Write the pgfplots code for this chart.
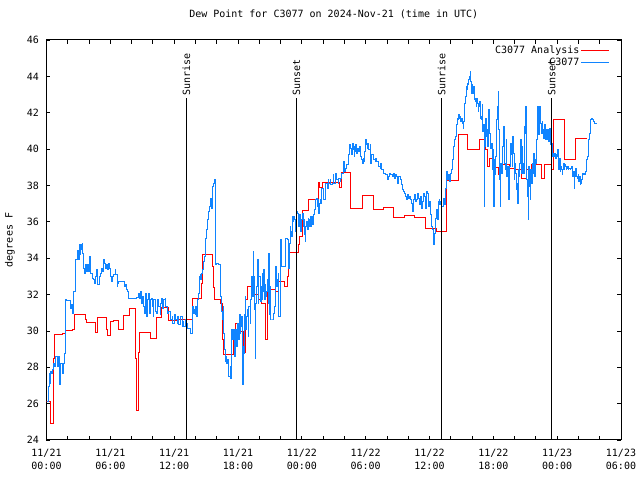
\documentclass[border=0pt]{standalone}
\usepackage{pgfplots}
\pgfplotsset{compat=1.18}
\usepackage{fontspec}
\setmainfont{DejaVu Sans Mono}
\definecolor{obsblue}{RGB}{16,132,255}
\begin{document}
\begin{tikzpicture}[font=\fontsize{10bp}{13bp}\selectfont]
\useasboundingbox (-46.5bp,-40bp) rectangle (593.5bp,440bp);
\begin{axis}[
  scale only axis, width=574.5bp, height=400bp,
  at={(0,0)}, anchor=south west,
  xmin=0, xmax=54, ymin=24, ymax=46,
  xtick={0,6,...,54},
  xticklabels={{11/21\\00:00},{11/21\\06:00},{11/21\\12:00},{11/21\\18:00},{11/22\\00:00},{11/22\\06:00},{11/22\\12:00},{11/22\\18:00},{11/23\\00:00},{11/23\\06:00}},
  minor xtick={2,4,8,10,14,16,20,22,26,28,32,34,38,40,44,46,50,52},
  ytick={24,26,...,46},
  tick align=inside, major tick length=4bp, minor tick length=4bp,
  every tick/.style={black, line width=0.8bp},
  axis line style={line width=1bp},
  /pgf/number format/assume math mode=true,
  xticklabel style={align=center, yshift=-6bp},
  yticklabel style={xshift=-4bp},
  title={Dew Point for C3077 on 2024-Nov-21 (time in UTC)},
  title style={at={(axis description cs:0.5,1)}, anchor=center, yshift=20bp},
  ylabel={degrees F},
  every axis y label/.style={at={(axis description cs:-0.0635,0.5)}, rotate=90, anchor=center},
  legend style={at={(rel axis cs:0.981,0.99)}, anchor=north east, draw=none, fill=none, inner sep=0pt, row sep=0bp, nodes={inner sep=1.5bp}},
  legend cell align=right,
  legend plot pos=right,
  legend image code/.code={\draw[#1, line width=1bp] (0bp,0bp) -- (28bp,0bp);},
]
\addplot[const plot, red, line width=1bp] coordinates {
(0.00,26.10)(0.33,24.88)(0.64,28.49)(0.74,29.78)(1.52,29.85)(1.80,30.00)(2.46,30.09)(2.62,30.91)(3.68,30.60)(3.78,30.47)(4.65,29.92)(4.78,30.75)(5.65,30.05)(5.72,29.76)(6.06,30.51)(6.28,30.56)(6.75,30.05)(7.22,30.84)(7.78,31.24)(8.38,28.49)(8.50,25.61)(8.63,28.81)(8.72,29.92)(9.73,29.59)(10.32,30.73)(10.82,31.28)(11.51,30.55)(12.23,30.64)(13.72,31.79)(14.58,32.60)(14.68,34.19)(15.58,33.55)(15.68,32.36)(15.77,31.70)(16.31,31.52)(16.52,29.50)(16.68,28.68)(17.62,29.50)(17.72,30.42)(18.19,29.96)(18.50,28.80)(18.72,31.70)(18.91,32.43)(19.28,31.98)(19.91,31.70)(20.07,31.98)(20.22,31.52)(20.60,29.50)(20.75,32.28)(21.48,32.19)(21.79,32.70)(22.41,32.43)(22.63,33.00)(22.73,34.29)(23.70,34.73)(23.80,35.19)(24.04,36.63)(24.67,37.20)(25.61,38.15)(25.70,37.86)(25.90,38.15)(27.58,37.86)(27.74,38.73)(28.59,36.74)(29.68,37.43)(30.71,36.70)(31.72,36.81)(32.60,36.21)(33.63,36.34)(34.63,36.21)(35.67,35.61)(36.67,35.45)(37.61,38.25)(38.70,40.81)(39.55,39.95)(40.68,40.54)(41.30,39.95)(41.46,39.05)(41.62,39.50)(41.93,39.00)(42.46,38.60)(42.62,39.13)(43.56,38.95)(44.03,38.85)(44.66,38.39)(45.13,38.85)(45.40,38.67)(45.60,39.15)(46.54,38.36)(46.85,39.15)(47.48,38.90)(47.63,41.60)(48.67,39.45)(49.77,40.60)(50.77,40.60)
};
\addlegendentry{C3077 Analysis}
\addplot[const plot, obsblue, line width=1bp] coordinates {
(0.02,26.11)(0.17,26.93)(0.27,27.67)(0.33,27.12)(0.42,27.76)(0.49,27.67)(0.58,27.85)(0.64,28.22)(0.74,28.03)(0.80,28.22)(0.89,28.58)(1.02,28.03)(1.11,28.58)(1.21,27.03)(1.27,28.22)(1.36,28.22)(1.49,27.67)(1.58,28.22)(1.68,28.77)(1.74,30.60)(1.83,31.70)(1.89,31.66)(2.15,31.66)(2.27,31.24)(2.37,31.43)(2.46,30.97)(2.52,32.16)(2.68,32.71)(2.77,33.90)(2.90,34.41)(2.99,33.90)(3.09,34.73)(3.15,34.18)(3.24,34.45)(3.31,34.73)(3.37,34.82)(3.43,34.27)(3.49,33.44)(3.59,33.17)(3.68,33.63)(3.78,33.26)(3.87,33.63)(3.93,33.26)(4.03,34.08)(4.12,33.53)(4.18,33.17)(4.28,32.89)(4.40,32.80)(4.50,32.62)(4.59,32.98)(4.68,33.35)(4.78,32.53)(4.87,32.53)(4.96,32.98)(5.09,33.17)(5.19,33.44)(5.28,33.26)(5.37,33.90)(5.47,33.72)(5.56,33.44)(5.65,33.63)(5.75,33.35)(5.84,33.72)(5.94,33.44)(6.03,32.98)(6.12,32.71)(6.22,32.98)(6.31,33.08)(6.44,33.35)(6.53,33.08)(6.63,32.43)(6.72,32.62)(6.81,32.71)(6.91,32.71)(7.07,32.71)(7.22,32.71)(7.31,32.43)(7.41,32.53)(7.50,32.25)(7.60,32.16)(7.69,31.79)(7.79,31.79)(7.85,31.79)(8.16,31.79)(8.48,31.84)(8.63,32.07)(8.72,31.79)(8.82,32.16)(8.91,31.52)(9.01,31.88)(9.10,31.33)(9.20,30.97)(9.29,32.07)(9.38,30.78)(9.48,31.70)(9.57,32.07)(9.67,30.97)(9.76,31.70)(9.85,31.79)(9.95,31.33)(10.04,30.78)(10.10,31.70)(10.20,31.43)(10.29,31.06)(10.38,30.97)(10.48,31.70)(10.57,31.33)(10.67,30.88)(10.76,31.52)(10.85,31.79)(10.95,31.24)(11.04,31.70)(11.14,31.79)(11.23,31.33)(11.33,31.06)(11.42,30.97)(11.51,31.06)(11.61,30.88)(11.70,30.60)(11.80,30.78)(11.89,30.42)(11.99,30.88)(12.08,30.69)(12.17,30.60)(12.27,30.42)(12.36,30.78)(12.45,30.33)
(12.55,30.51)(12.64,30.78)(12.74,30.23)(12.83,30.51)(12.92,30.23)(13.02,30.60)(13.11,30.42)(13.21,30.23)(13.30,30.14)(13.39,30.14)(13.49,29.96)(13.58,29.87)(13.68,30.33)(13.74,31.33)(13.80,30.97)(13.89,31.15)(13.96,30.88)(14.05,31.33)(14.11,30.78)(14.21,31.70)(14.27,32.07)(14.34,32.98)(14.43,33.08)(14.52,32.80)(14.58,33.17)(14.68,33.35)(14.74,33.81)(14.83,34.08)(14.90,35.00)(14.96,35.09)(15.02,35.55)(15.09,36.01)(15.18,36.10)(15.24,36.56)(15.30,36.83)(15.37,37.02)(15.43,37.29)(15.49,37.20)(15.52,36.74)(15.59,37.38)(15.65,37.93)(15.71,38.12)(15.77,38.30)(15.84,36.47)(15.90,33.63)(16.00,33.68)(16.15,33.66)(16.25,33.63)(16.31,33.08)(16.37,31.88)(16.46,31.06)(16.56,30.60)(16.62,31.33)(16.68,29.87)(16.74,28.95)(16.81,28.31)(16.87,28.58)(16.93,28.22)(17.03,28.40)(17.09,27.85)(17.15,27.48)(17.25,28.03)(17.31,27.39)(17.37,28.40)(17.43,30.05)(17.50,29.50)(17.56,30.05)(17.65,28.58)(17.72,29.23)(17.81,30.05)(17.87,29.13)(17.94,30.42)(18.03,29.50)(18.12,30.88)(18.19,29.87)(18.25,30.23)(18.34,30.78)(18.41,27.03)(18.47,29.13)(18.53,28.77)(18.59,30.88)(18.69,31.88)(18.75,30.05)(18.81,30.78)(18.88,31.15)(18.97,29.68)(19.03,31.33)(19.13,30.42)(19.19,31.70)(19.28,32.98)(19.38,31.88)(19.44,34.36)(19.50,32.98)(19.57,31.15)(19.63,28.49)(19.69,31.52)(19.75,32.43)(19.82,33.90)(19.91,31.52)(19.97,32.98)(20.07,32.34)(20.13,31.61)(20.19,32.43)(20.25,31.70)(20.32,33.17)(20.38,32.16)(20.44,33.35)(20.50,31.70)(20.57,32.53)(20.63,31.88)(20.69,32.16)(20.75,32.80)(20.82,31.52)(20.88,34.27)(20.94,30.88)(21.01,32.43)(21.07,30.60)(21.13,30.60)(21.22,30.60)(21.32,30.97)(21.41,31.33)(21.51,32.80)(21.57,33.53)(21.63,32.43)(21.70,32.80)(21.79,33.17)(21.85,30.78)(21.95,33.90)(22.01,35.00)(22.07,34.82)(22.13,33.53)(22.20,33.53)(22.32,33.53)(22.42,33.53)(22.51,35.09)(22.57,35.09)(22.64,35.00)(22.70,33.90)(22.76,33.44)(22.82,34.82)(22.89,35.73)
(22.98,35.46)(23.07,35.18)(23.14,36.28)(23.20,36.01)(23.26,36.28)(23.33,36.10)(23.39,35.46)(23.45,35.73)(23.51,36.56)(23.58,36.47)(23.64,35.92)(23.70,35.73)(23.76,36.38)(23.83,35.73)(23.89,35.46)(23.95,35.92)(24.01,36.10)(24.08,36.47)(24.14,35.73)(24.20,36.10)(24.27,35.28)(24.33,34.91)(24.39,35.73)(24.45,36.01)(24.52,35.55)(24.58,36.19)(24.64,36.10)(24.70,35.73)(24.77,36.28)(24.83,36.01)(24.89,35.73)(24.95,36.28)(25.02,35.83)(25.08,35.92)(25.14,36.38)(25.20,36.65)(25.27,36.83)(25.33,37.20)(25.39,37.29)(25.45,36.83)(25.52,37.20)(25.58,36.47)(25.64,37.02)(25.71,37.20)
(25.80,37.02)(25.89,37.84)(25.99,37.57)(26.08,37.20)(26.18,37.57)(26.27,38.12)(26.37,37.84)(26.46,38.30)(26.55,38.12)(26.65,38.30)(26.74,38.03)(26.84,38.12)(26.93,38.58)(27.02,38.12)(27.12,38.48)(27.21,38.67)(27.30,38.30)(27.40,38.12)(27.49,38.39)(27.59,38.21)(27.68,38.39)(27.77,38.67)(27.87,38.85)(27.96,39.31)(28.05,38.76)(28.15,38.94)(28.24,39.13)(28.34,39.49)(28.43,39.68)(28.52,40.23)(28.62,40.04)(28.68,39.68)(28.74,40.32)(28.81,39.95)(28.87,40.13)(28.93,39.58)(28.99,39.86)(29.06,40.23)(29.12,40.04)(29.18,39.77)(29.25,40.04)(29.31,39.95)(29.37,39.86)(29.43,40.13)(29.50,39.95)(29.56,39.58)(29.62,39.40)(29.69,39.22)(29.75,39.49)(29.81,39.31)(29.87,39.86)(29.94,40.23)(30.00,40.50)(30.06,40.23)(30.13,40.32)(30.19,40.04)(30.25,40.32)(30.31,39.95)(30.41,40.23)(30.50,39.22)(30.59,39.68)(30.69,39.58)(30.78,39.40)(30.88,39.31)(30.97,39.49)(31.06,39.31)(31.16,39.22)(31.25,39.03)(31.35,38.94)(31.44,39.22)(31.53,38.85)(31.63,38.76)(31.72,38.67)(31.82,38.67)(31.91,38.58)(31.97,38.58)(32.07,38.30)(32.16,38.48)(32.25,38.67)(32.35,38.58)(32.44,38.58)(32.54,38.48)(32.63,38.67)(32.72,38.39)(32.82,38.58)(32.91,38.48)(33.01,38.12)(33.10,38.48)(33.19,38.48)(33.29,38.30)(33.38,38.03)(33.48,37.75)(33.57,37.66)(33.66,37.57)(33.76,37.38)(33.85,37.20)(33.95,37.48)(34.04,37.29)(34.13,37.38)(34.23,37.20)(34.32,37.02)(34.42,36.56)(34.51,37.20)(34.60,37.48)(34.70,37.11)(34.79,37.20)(34.89,37.57)(34.98,37.29)(35.07,36.93)(35.17,37.38)(35.26,36.74)(35.36,37.11)(35.45,37.57)(35.54,37.38)(35.64,36.74)(35.73,37.66)(35.83,37.57)(35.92,36.83)(36.01,37.11)(36.11,36.38)(36.17,36.38)(36.23,35.73)(36.29,35.55)(36.36,35.18)(36.42,34.73)(36.48,35.37)(36.54,35.73)(36.61,36.19)(36.67,36.65)(36.73,36.10)(36.80,36.83)(36.86,37.11)(36.92,37.20)(36.98,36.93)(37.05,37.11)(37.11,36.83)(37.17,36.83)(37.23,36.83)(37.30,37.29)(37.39,37.11)(37.45,36.93)(37.51,37.84)(37.58,38.48)(37.64,38.76)(37.70,38.30)(37.76,38.48)(37.83,38.58)
(37.89,38.21)(37.95,38.48)(38.02,38.67)(38.08,38.85)(38.14,39.40)(38.21,39.49)(38.27,40.13)(38.33,40.32)(38.39,40.50)(38.46,40.68)(38.52,41.23)(38.58,41.33)(38.64,41.69)(38.71,41.60)(38.77,41.88)(38.83,41.69)(38.90,41.79)(38.96,41.51)(39.02,41.69)(39.08,41.42)(39.15,41.14)(39.21,41.51)(39.27,41.69)(39.33,42.52)(39.40,42.89)(39.46,43.44)(39.52,43.25)(39.58,43.62)(39.65,43.53)(39.71,43.80)(39.77,43.99)(39.83,44.26)(39.90,43.71)(39.96,43.07)(40.02,43.53)(40.08,43.07)(40.15,43.44)(40.21,42.70)(40.27,42.79)(40.34,42.61)(40.40,42.34)(40.46,42.79)(40.52,42.52)(40.59,42.06)(40.65,42.34)(40.71,42.61)(40.77,41.69)(40.84,41.79)(40.90,41.60)(40.96,42.43)(41.02,40.96)(41.09,41.33)(41.15,36.83)(41.21,40.13)(41.27,41.69)(41.34,40.68)(41.40,41.05)(41.46,40.13)(41.53,40.32)(41.59,42.15)(41.65,40.87)(41.71,40.50)(41.78,40.04)(41.84,40.32)(41.90,38.85)(41.96,39.95)(42.03,36.83)(42.09,39.40)(42.15,38.58)(42.21,39.58)(42.28,40.78)(42.34,41.60)(42.40,42.34)(42.46,43.16)(42.53,41.05)(42.59,38.30)(42.65,36.83)(42.71,39.22)(42.78,38.67)(42.84,39.58)(42.90,40.13)(42.97,41.23)(43.03,41.05)(43.09,39.22)(43.15,38.85)(43.22,40.50)(43.28,38.48)(43.34,39.03)(43.40,37.84)(43.47,37.20)(43.53,39.03)(43.59,39.40)(43.65,40.32)(43.72,39.68)(43.78,39.03)(43.84,40.68)(43.90,39.77)(43.97,38.30)(44.03,39.22)(44.09,38.67)(44.16,37.75)(44.22,38.12)(44.28,37.02)(44.34,38.85)(44.41,38.48)(44.47,39.22)(44.53,39.77)(44.59,40.50)(44.66,38.67)(44.72,40.13)(44.78,39.22)(44.84,38.67)(44.91,41.23)(44.97,40.87)(45.03,42.34)(45.10,41.79)(45.16,38.30)(45.22,37.38)(45.28,36.10)(45.35,39.03)(45.41,37.93)(45.47,37.20)(45.53,38.85)(45.60,38.12)(45.66,39.22)(45.72,38.67)(45.78,39.77)(45.85,39.03)(45.91,38.48)(45.97,39.40)(46.04,39.22)(46.10,40.50)(46.16,42.34)(46.22,41.69)(46.29,40.78)(46.35,42.34)(46.41,41.97)(46.47,41.42)(46.54,40.87)(46.60,41.51)(46.66,41.05)(46.72,40.59)(46.79,41.23)(46.85,41.33)(46.91,40.50)(46.98,41.05)(47.04,40.50)(47.10,41.05)(47.16,40.78)(47.23,40.41)(47.29,41.14)(47.35,40.32)(47.41,40.23)(47.48,40.32)(47.54,39.95)(47.60,39.58)(47.66,39.77)(47.73,39.58)(47.79,39.77)(47.85,39.49)(47.91,39.68)(47.98,39.58)(48.04,39.95)(48.10,39.58)(48.17,38.85)(48.23,39.49)(48.29,38.76)(48.35,39.03)(48.42,38.85)(48.48,38.58)(48.54,38.85)(48.60,39.22)(48.67,38.85)(48.73,39.13)(48.79,39.03)(48.85,38.85)(48.92,38.94)(48.98,39.03)(49.04,38.85)(49.10,38.94)(49.17,38.94)(49.23,38.85)(49.29,38.94)(49.35,39.03)(49.42,38.67)(49.48,38.48)(49.54,38.76)(49.60,37.84)(49.67,38.48)(49.73,38.94)(49.79,38.67)(49.86,38.48)(49.92,38.39)(49.98,38.58)(50.04,38.21)(50.11,38.48)(50.17,38.03)(50.23,38.12)(50.29,38.30)(50.36,38.58)(50.42,38.67)(50.48,38.58)(50.54,38.67)(50.61,38.58)(50.67,38.76)(50.73,38.85)(50.79,39.40)(50.86,39.58)(50.92,40.13)(50.98,40.50)(51.04,40.87)(51.10,41.33)(51.17,41.60)(51.23,41.69)(51.29,41.60)(51.35,41.60)(51.42,41.51)(51.48,41.42)(51.54,41.42)(51.60,41.42)(51.70,41.42)
};
\addlegendentry{C3077}
\addplot[black, line width=1bp, forget plot] coordinates {(13.15,24) (13.15,42.81)};
\addplot[black, line width=1bp, forget plot] coordinates {(23.50,24) (23.50,42.81)};
\addplot[black, line width=1bp, forget plot] coordinates {(37.14,24) (37.14,42.81)};
\addplot[black, line width=1bp, forget plot] coordinates {(47.48,24) (47.48,42.81)};
\node[rotate=90, anchor=west, inner sep=0pt] at (axis cs:13.15,42.95) {Sunrise};
\node[rotate=90, anchor=west, inner sep=0pt] at (axis cs:23.50,42.95) {Sunset};
\node[rotate=90, anchor=west, inner sep=0pt] at (axis cs:37.14,42.95) {Sunrise};
\node[rotate=90, anchor=west, inner sep=0pt] at (axis cs:47.48,42.95) {Sunset};
\end{axis}
\end{tikzpicture}
\end{document}
